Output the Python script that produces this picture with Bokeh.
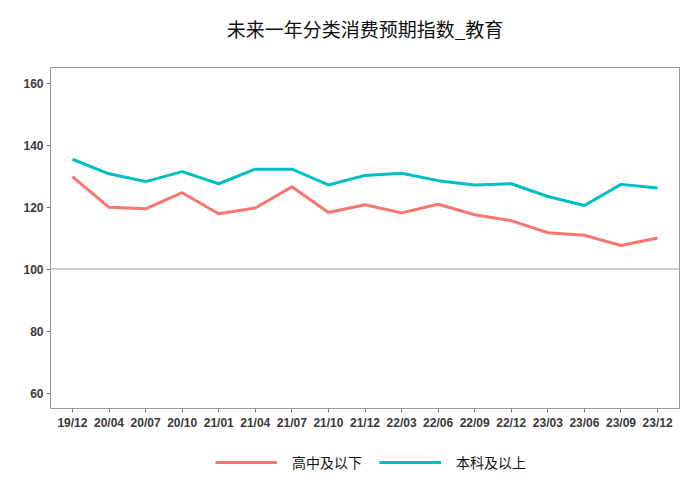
from bokeh.plotting import figure
from bokeh.models import FactorRange, Range1d, FixedTicker, Span, Legend, LegendItem, ColumnDataSource
from bokeh.core.properties import value
from bokeh.layouts import column
from bokeh.embed import file_html
from bokeh.resources import INLINE

title_text = "未来一年分类消费预期指数_教育"
dates = ["19/12", "20/04", "20/07", "20/10", "21/01", "21/04", "21/07", "21/10", "21/12",
         "22/03", "22/06", "22/09", "22/12", "23/03", "23/06", "23/09", "23/12"]
series_names = ["高中及以下", "本科及以上"]
high_school = [129.8, 119.9, 119.4, 124.6, 117.8, 119.7, 126.5, 118.2, 120.7,
               118.1, 120.9, 117.5, 115.6, 111.7, 110.9, 107.6, 110.0]
bachelor = [135.4, 130.7, 128.2, 131.4, 127.5, 132.2, 132.2, 127.1, 130.2,
            130.9, 128.5, 127.1, 127.5, 123.4, 120.5, 127.3, 126.1]
y_ticks = [60, 80, 100, 120, 140, 160]
colors = ["#F8766D", "#00BFC4"]

def strip(h):
    f = figure(width=700, height=h, output_backend="svg", toolbar_location=None,
               x_range=Range1d(0, 1), y_range=Range1d(0, 1),
               min_border_left=50, min_border_right=21, min_border_top=0, min_border_bottom=0)
    f.axis.visible = False
    f.grid.visible = False
    f.outline_line_color = None
    f.background_fill_color = "white"
    f.border_fill_color = "white"
    return f

# title strip
tp = strip(55)
tp.text(x=[0.5], y=[0.5], text=[title_text], text_align="center", text_baseline="middle",
        text_font=value("Noto Sans CJK SC"), text_font_size="19px", text_color="#111111")

p = figure(width=700, height=385, output_backend="svg", toolbar_location=None,
           x_range=FactorRange(factors=dates, range_padding=0.1, range_padding_units="absolute"),
           y_range=Range1d(55, 165),
           min_border_left=50, min_border_right=21, min_border_top=12, min_border_bottom=32)

p.xgrid.visible = False
p.ygrid.visible = False
p.outline_line_color = "#9a9a9a"
p.outline_line_width = 1
p.background_fill_color = "white"
p.border_fill_color = "white"

for ax in (p.xaxis[0], p.yaxis[0]):
    ax.axis_line_color = None
    ax.major_tick_line_color = "#7a7a7a"
    ax.major_tick_out = 4
    ax.major_tick_in = 0
    ax.minor_tick_line_color = None
    ax.major_label_text_font = "Liberation Sans"
    ax.major_label_text_font_style = "bold"
    ax.major_label_text_font_size = "12px"
    ax.major_label_text_color = "#3a3a3a"
    ax.major_label_standoff = 3
p.xaxis[0].group_text_font_size = "0px"
p.yaxis[0].ticker = FixedTicker(ticks=y_ticks)

p.add_layout(Span(location=100, dimension="width", line_color="#9a9a9a", line_width=1))

src = ColumnDataSource(dict(x=dates, a=high_school, b=bachelor))
r1 = p.line("x", "a", source=src, line_color=colors[0], line_width=3)
r2 = p.line("x", "b", source=src, line_color=colors[1], line_width=3)

# legend strip below the chart (series drawn outside its view, used only for legend glyphs)
lg = figure(width=700, height=60, output_backend="svg", toolbar_location=None,
            x_range=FactorRange(factors=dates), y_range=Range1d(0, 1),
            min_border_left=50, min_border_right=21, min_border_top=0, min_border_bottom=0)
lg.axis.visible = False
lg.grid.visible = False
lg.outline_line_color = None
lg.background_fill_color = "white"
lg.border_fill_color = "white"
l1 = lg.line("x", "a", source=src, line_color=colors[0], line_width=3)
l2 = lg.line("x", "b", source=src, line_color=colors[1], line_width=3)

legend = Legend(items=[LegendItem(label=series_names[0], renderers=[l1]),
                       LegendItem(label=series_names[1], renderers=[l2])],
                orientation="horizontal", location=(165, 28),
                border_line_color=None, background_fill_alpha=0,
                glyph_width=62, glyph_height=20, label_standoff=15, spacing=17,
                label_text_font="Noto Sans CJK SC", label_text_font_size="14px",
                label_text_color="#111111", padding=0, margin=0)
lg.add_layout(legend, "center")

layout = column(tp, p, lg, spacing=0)
open("out.html", "w").write(file_html(layout, INLINE))
